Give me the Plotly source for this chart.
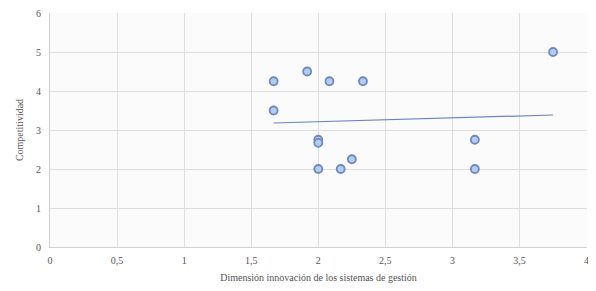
import numpy as np
import plotly.graph_objects as go

x_vals = [3.75, 1.667, 1.917, 2.083, 2.333, 1.667, 2.0, 2.0, 3.167, 2.25, 2.0, 2.167, 3.167]
y_vals = [5.0, 4.25, 4.5, 4.25, 4.25, 3.5, 2.75, 2.67, 2.75, 2.25, 2.0, 2.0, 2.0]
x_ticks = [0, 0.5, 1, 1.5, 2, 2.5, 3, 3.5, 4]
y_ticks = [0, 1, 2, 3, 4, 5, 6]
x_title = "Dimensión innovación de los sistemas de gestión"
y_title = "Competitividad"

slope, intercept = np.polyfit(x_vals, y_vals, 1)
tx = [min(x_vals), max(x_vals)]
ty = [slope * v + intercept for v in tx]

fig = go.Figure()
fig.add_trace(go.Scatter(x=tx, y=ty, mode="lines",
                         line=dict(color="#6a84c4", width=1.2), hoverinfo="skip"))
fig.add_trace(go.Scatter(x=x_vals, y=y_vals, mode="markers",
                         marker=dict(size=8, color="#b4cdec",
                                     line=dict(color="#7088c0", width=1.8))))

font = dict(family="Liberation Serif, Times New Roman, serif", size=10, color="#555555")
# the page body has an 8px margin, so the figure is sized to fit the 596x291 window
fig.update_layout(
    width=588, height=275,
    margin=dict(l=42, r=9, t=5, b=36),
    paper_bgcolor="white", plot_bgcolor="#fbfbfb",
    showlegend=False, separators=", ",
    font=font,
    xaxis=dict(range=[0, 4.003], tickvals=x_ticks, showgrid=True, gridcolor="#dedede",
               zeroline=False, showline=True, linecolor="#d0d0d0", automargin=False,
               ticks="", ticklabelstandoff=4, ticklabeloverflow="allow",
               title=dict(text=x_title, font=dict(size=10, color="#555555"), standoff=10),
               tickfont=dict(size=10, color="#555555")),
    yaxis=dict(range=[0, 6], tickvals=y_ticks, showgrid=True, gridcolor="#dedede",
               zeroline=False, showline=True, linecolor="#d0d0d0", automargin=False,
               ticks="", ticklabelstandoff=6, ticklabeloverflow="allow",
               title=dict(text=y_title, font=dict(size=10, color="#555555"), standoff=10),
               tickfont=dict(size=10, color="#555555")),
)
fig.write_html("out.html")
